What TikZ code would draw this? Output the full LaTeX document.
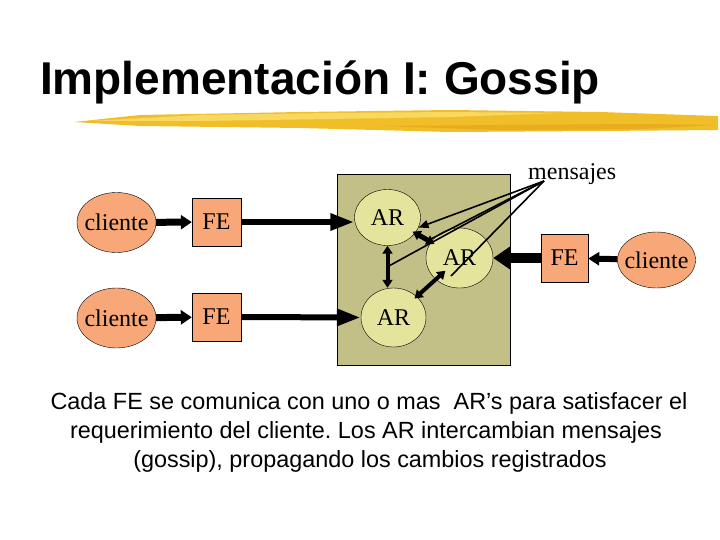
\documentclass[tikz,border=0pt]{standalone}
\usepackage{fontspec}
\setmainfont{Liberation Serif}
\newfontfamily\titlefont{Liberation Sans Bold}
\newfontfamily\bodyfont{Liberation Sans}
\usetikzlibrary{shapes.geometric,arrows.meta,calc}
\frenchspacing
\definecolor{cOr}{RGB}{248,168,120}
\definecolor{cAR}{RGB}{228,228,156}
\definecolor{cBox}{RGB}{194,192,134}
\definecolor{cBrush}{RGB}{240,190,40}
\definecolor{cBrushL}{RGB}{248,216,96}
\definecolor{cBrushD}{RGB}{232,172,30}
\tikzset{
 client/.style={ellipse, draw, thin, fill=cOr, minimum width=79pt, minimum height=60pt, inner sep=0pt, font=\fontsize{24}{28}\selectfont},
 febox/.style={rectangle, draw, thin, fill=cOr, minimum width=49pt, minimum height=48pt, inner sep=0pt, font=\fontsize{24}{28}\selectfont},
 arnode/.style={ellipse, draw, thin, fill=cAR, inner sep=0pt, font=\fontsize{24}{28}\selectfont},
 feedA/.style={line width=7pt, -{Triangle[length=11pt,width=14pt]}},
 feedB/.style={line width=6pt, -{Triangle[length=24pt,width=16pt]}},
 feedC/.style={line width=10pt, -{Triangle[length=17pt,width=22pt]}},
 link/.style={line width=4pt, {Triangle[length=8pt,width=10pt]}-{Triangle[length=8pt,width=10pt]}},
 msg/.style={line width=1.6pt},
 bodytext/.style={anchor=base, inner sep=0pt, font=\bodyfont\fontsize{23.4}{29}\selectfont},
}
\begin{document}
\begin{tikzpicture}[x=1pt,y=-1pt]
\useasboundingbox (0,0) rectangle (720,540);
% title
\node[anchor=base west, inner sep=0pt, font=\titlefont\fontsize{46}{50}\selectfont] (title) at (40,95) {Implementación I: Gossip};
% brush stroke
\fill[cBrush] (74,122) -- (140,115) -- (300,112) -- (450,110) -- (600,112) -- (718,116)
  -- (718,130) -- (600,131) -- (450,132) -- (300,128) -- (140,126) -- cycle;
\fill[cBrushL] (90,121) -- (200,115) -- (330,113) -- (450,112) -- (560,113) -- (450,117) -- (330,119) -- (200,121) -- cycle;
\fill[cBrushD] (380,126) -- (500,125) -- (640,124) -- (716,125) -- (640,129) -- (500,130) -- cycle;
% replica box
\node[draw, thin, fill=cBox, minimum width=173pt, minimum height=191pt, inner sep=0pt, anchor=north west] (box) at (337,174) {};
% nodes
\node[client] (cl1) at (116.5,222.5) {\makebox[0pt]{cliente}};
\node[client] (cl2) at (116.5,318) {\makebox[0pt]{cliente}};
\node[febox] (fe1) at (216.5,222) {FE};
\node[febox] (fe2) at (216.5,317) {FE};
\node[arnode, minimum width=66pt, minimum height=56pt] (ar1) at (387.5,217.5) {AR};
\node[arnode, minimum width=67pt, minimum height=60pt] (ar2) at (459.5,258) {AR};
\node[arnode, minimum width=65pt, minimum height=59pt] (ar3) at (393.5,317.5) {AR};
\node[febox, minimum width=47pt] (fe3) at (564.5,258) {FE};
\node[client, minimum width=78pt, minimum height=56pt] (cl3) at (656.5,260) {\makebox[0pt]{cliente}};
\node[anchor=base west, inner sep=0pt, font=\fontsize{24}{28}\selectfont] (msgl) at (528,180) {mensajes};
\coordinate (m) at (544,181);
% feeds
\draw[feedA] (cl1) -- (fe1);
\draw[feedA] (cl2) -- (fe2);
\draw[feedB] (fe1.east) -- (fe1.east -| ar1.west);
\draw[feedB] (fe2.east) -- (ar3.west);
\draw[line width=6pt, -{Triangle[length=11pt,width=13pt]}] (cl3) -- (fe3);
\draw[feedC] (fe3) -- (ar2);
% links between replicas
\draw[link] (ar1.south) -- (ar1.south |- ar3.north);
\draw[link, line width=5pt, shorten <=-3pt, shorten >=-4pt] (ar1) -- (ar2);
\draw[link, shorten <=-3pt, shorten >=-13pt] (ar3) -- (ar2);
% gossip message lines
\coordinate (v) at ($(ar1.south)!0.5!(ar1.south |- ar3.north)$);
\coordinate (d1) at (431,239);
\coordinate (d2) at (451,276);
\draw[msg, -{Triangle[length=10pt,width=8pt]}] (m) -- (ar1.-18);
\draw[msg] (m) -- (d1);
\draw[msg] (m) -- (v);
\draw[msg] (m) -- (d2);
% caption
\node[bodytext] (t1) at (369,409) {Cada FE se comunica con uno o mas \ AR’s para satisfacer el};
\node[bodytext] (t2) at (366,438) {requerimiento del cliente. Los AR intercambian mensajes};
\node[bodytext] (t3) at (370,467) {(gossip), propagando los cambios registrados};
\end{tikzpicture}
\end{document}
